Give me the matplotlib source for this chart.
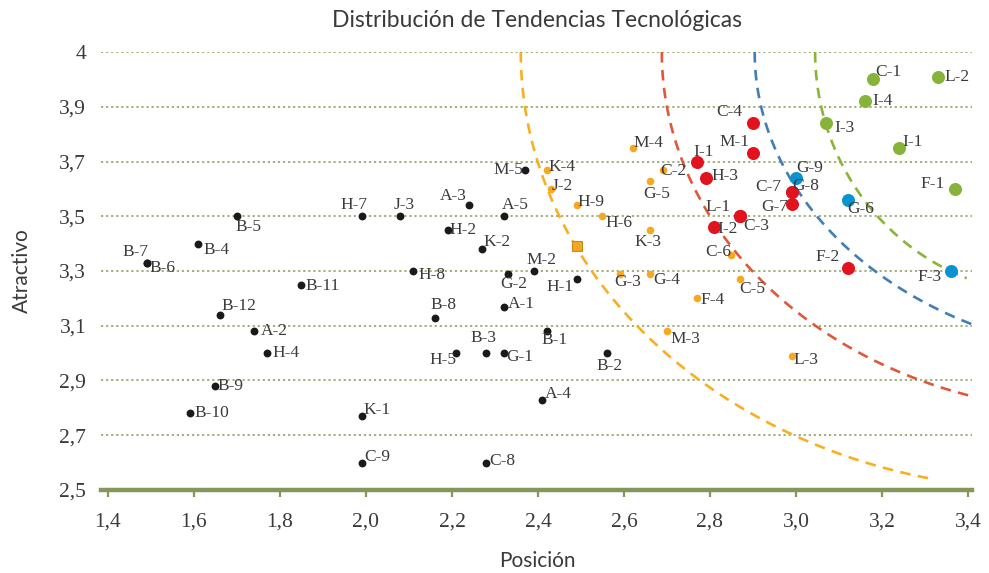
import numpy as np
import matplotlib.pyplot as plt

# ---- data (Posición, Atractivo) ----
black_names = ['B-7', 'B-6', 'B-5', 'B-4', 'B-11', 'B-12', 'A-2', 'H-4', 'B-9', 'B-10',
               'M-5', 'H-7', 'J-3', 'A-3', 'A-5', 'H-2', 'K-2', 'H-8', 'G-2', 'M-2',
               'H-1', 'A-1', 'B-8', 'B-1', 'H-5', 'B-3', 'G-1', 'B-2', 'A-4', 'K-1',
               'C-9', 'C-8']
black_x = [1.49, 1.49, 1.70, 1.61, 1.85, 1.66, 1.74, 1.77, 1.65, 1.59,
           2.37, 1.99, 2.08, 2.24, 2.32, 2.19, 2.27, 2.11, 2.33, 2.39,
           2.49, 2.32, 2.16, 2.42, 2.21, 2.28, 2.32, 2.56, 2.41, 1.99,
           1.99, 2.28]
black_y = [3.33, 3.33, 3.50, 3.40, 3.25, 3.14, 3.08, 3.00, 2.88, 2.78,
           3.67, 3.50, 3.50, 3.54, 3.50, 3.45, 3.38, 3.30, 3.29, 3.30,
           3.27, 3.17, 3.13, 3.08, 3.00, 3.00, 3.00, 3.00, 2.83, 2.77,
           2.60, 2.60]

orange_names = ['K-4', 'J-2', 'H-9', 'H-6', 'G-3', 'G-4', 'K-3', 'C-6', 'C-5', 'F-4',
                'M-3', 'L-3', 'M-4', 'C-2', 'G-5']
orange_x = [2.42, 2.43, 2.49, 2.55, 2.59, 2.66, 2.66, 2.85, 2.87, 2.77,
            2.70, 2.99, 2.62, 2.69, 2.66]
orange_y = [3.67, 3.60, 3.54, 3.50, 3.29, 3.29, 3.45, 3.36, 3.27, 3.20,
            3.08, 2.99, 3.75, 3.67, 3.63]

square_x = [2.49]
square_y = [3.39]

red_names = ['C-4', 'M-1', 'I-1', 'H-3', 'L-1', 'C-3', 'I-2', 'C-7', 'G-7', 'F-2']
red_x = [2.90, 2.90, 2.77, 2.79, 2.87, 2.87, 2.81, 2.99, 2.99, 3.12]
red_y = [3.84, 3.73, 3.70, 3.64, 3.50, 3.50, 3.46, 3.59, 3.545, 3.31]

blue_names = ['G-9', 'G-8', 'G-6', 'F-3']
blue_x = [3.00, 2.99, 3.12, 3.36]
blue_y = [3.64, 3.59, 3.56, 3.30]

green_names = ['C-1', 'L-2', 'I-4', 'I-3', 'I-1', 'F-1']
green_x = [3.18, 3.33, 3.16, 3.07, 3.24, 3.37]
green_y = [4.00, 4.01, 3.92, 3.84, 3.75, 3.60]

x_ticks = [1.4, 1.6, 1.8, 2.0, 2.2, 2.4, 2.6, 2.8, 3.0, 3.2, 3.4]
x_labels = ['1,4', '1,6', '1,8', '2,0', '2,2', '2,4', '2,6', '2,8', '3,0', '3,2', '3,4']
y_ticks = [2.5, 2.7, 2.9, 3.1, 3.3, 3.5, 3.7, 3.9, 4.1]
y_labels = ['2,5', '2,7', '2,9', '3,1', '3,3', '3,5', '3,7', '3,9', '4']

# dashed boundary arcs (quarter ellipses hanging from the top edge):
# centre x, radius x, radius y, last x
arc_cx = [3.591, 3.707, 3.823, 3.591]
arc_rx = [1.231, 1.019, 0.919, 0.5465]
arc_ry = [1.600, 1.315, 1.114, 0.884]
arc_end = [3.315, 3.41, 3.41, 3.397]
arc_colors = ['#F9B020', '#E0583A', '#3F7FB6', '#8AB536']

# ---- label placement (pixel offsets from the point, horizontal alignment) ----
black_offsets = {
    'B-7': (2, 11, 'right'), 'B-6': (3, -5, 'left'), 'B-5': (-1, -11, 'left'),
    'B-4': (5, -6, 'left'), 'B-11': (4, -1, 'left'), 'B-12': (2, 9, 'left'),
    'A-2': (7, 0, 'left'), 'H-4': (5, 0, 'left'), 'B-9': (2, 0, 'left'),
    'B-10': (5, 0, 'left'), 'M-5': (-2, 0, 'right'), 'H-7': (6, 11, 'right'),
    'J-3': (4, 11, 'center'), 'A-3': (-2, 9, 'right'), 'A-5': (-2, 11, 'left'),
    'H-2': (2, 0, 'left'), 'K-2': (1, 7, 'left'), 'H-8': (5, -4, 'left'),
    'G-2': (6, -10, 'center'), 'M-2': (8, 11, 'center'), 'H-1': (-3, -8, 'right'),
    'A-1': (4, 3, 'left'), 'B-8': (9, 13, 'center'), 'B-1': (8, -9, 'center'),
    'H-5': (0, -7, 'right'), 'B-3': (-3, 15, 'center'), 'G-1': (3, -4, 'left'),
    'B-2': (3, -13, 'center'), 'A-4': (3, 6, 'left'), 'K-1': (2, 6, 'left'),
    'C-9': (3, 6, 'left'), 'C-8': (3, 2, 'left'),
}
orange_offsets = {
    'K-4': (2, 3, 'left'), 'J-2': (1, 3, 'left'), 'H-9': (1, 3, 'left'),
    'H-6': (3, -7, 'left'), 'G-3': (8, -8, 'center'), 'G-4': (3, -6, 'left'),
    'K-3': (-2, -12, 'center'), 'C-6': (0, 3, 'right'), 'C-5': (-1, -10, 'left'),
    'F-4': (3, -2, 'left'), 'M-3': (3, -8, 'left'), 'L-3': (2, -4, 'left'),
    'M-4': (1, 5, 'left'), 'C-2': (-2, -1, 'left'), 'G-5': (7, -13, 'center'),
}
red_offsets = {
    'C-4': (-11, 11, 'right'), 'M-1': (-4, 11, 'right'), 'I-1': (6, 10, 'center'),
    'H-3': (6, 2, 'left'), 'L-1': (-9, 9, 'right'), 'C-3': (3, -10, 'left'),
    'I-2': (3, -2, 'left'), 'C-7': (-10, 5, 'right'), 'G-7': (-4, -3, 'right'),
    'F-2': (-8, 11, 'right'),
}
blue_offsets = {
    'G-9': (0, 10, 'left'), 'G-8': (1, 6, 'left'), 'G-6': (0, -9, 'left'),
    'F-3': (-9, -6, 'right'),
}
green_offsets = {
    'C-1': (2, 7, 'left'), 'L-2': (7, 0, 'left'), 'I-4': (8, 0, 'left'),
    'I-3': (8, -5, 'left'), 'I-1': (3, 6, 'left'), 'F-1': (-10, 5, 'right'),
}

olive = '#84965A'
grid_col = '#9AA86C'
text_col = '#3A3A3A'
label_font = 'Liberation Serif'

fig = plt.figure(figsize=(9.89, 5.73), dpi=100)
ax = fig.add_axes([0.1026, 0.1449, 0.8805, 0.7643])
ax.set_xlim(1.385, 3.41)
ax.set_ylim(2.5, 4.1)

# boundary arcs
for cx, rx, ry, xe, col in zip(arc_cx, arc_rx, arc_ry, arc_end, arc_colors):
    t_end = np.arccos((xe - cx) / rx)
    t = np.linspace(np.pi, t_end, 300)
    ax.plot(cx + rx * np.cos(t), 4.1 - ry * np.sin(t), color=col, lw=1.9,
            linestyle=(0, (4, 2.8)), zorder=2, clip_on=False)

ax.scatter(black_x, black_y, s=32, color='#1A1A1A', zorder=4, linewidths=0)
ax.scatter(orange_x, orange_y, s=30, color='#F8A81E', zorder=4, linewidths=0)
ax.scatter(square_x, square_y, s=42, marker='s', color='#F5A623',
           edgecolors='#C98A1A', linewidths=0.8, zorder=4)
ax.scatter(blue_x, blue_y, s=88, color='#0A93D1', zorder=5, linewidths=0)
ax.scatter(red_x, red_y, s=88, color='#E2131E', zorder=6, linewidths=0)
ax.scatter(green_x, green_y, s=88, color='#86B43A', zorder=5, linewidths=0)

groups = [(black_names, black_x, black_y, black_offsets),
          (orange_names, orange_x, orange_y, orange_offsets),
          (red_names, red_x, red_y, red_offsets),
          (blue_names, blue_x, blue_y, blue_offsets),
          (green_names, green_x, green_y, green_offsets)]
for names, xs, ys, offs in groups:
    for n, xv, yv in zip(names, xs, ys):
        dx, dy, ha = offs[n]
        ax.annotate(n, (xv, yv), xytext=(dx, dy), textcoords='offset pixels',
                    ha=ha, va='center', fontsize=12.5, family=label_font,
                    color=text_col, zorder=7)

# axes styling
ax.set_xticks(x_ticks)
ax.set_xticklabels(x_labels)
ax.set_yticks(y_ticks)
ax.set_yticklabels(y_labels)
for s in ['top', 'right', 'left']:
    ax.spines[s].set_visible(False)
ax.spines['bottom'].set_color(olive)
ax.spines['bottom'].set_linewidth(3.2)
ax.tick_params(axis='x', direction='out', length=5, width=1.6, color=olive,
               pad=11, labelsize=15.5, labelcolor=text_col)
ax.tick_params(axis='y', length=0, pad=11, labelsize=15.5, labelcolor=text_col)
for lab in ax.get_xticklabels() + ax.get_yticklabels():
    lab.set_family(label_font)
ax.yaxis.grid(True, linestyle=(0, (1.2, 1.6)), color=grid_col, lw=1.3)
ax.set_axisbelow(True)

ax.set_title('Distribución de Tendencias Tecnológicas', fontsize=16.5,
             family='Lato', color=text_col, pad=18)
ax.set_xlabel('Posición', fontsize=15, family='Lato', color=text_col, labelpad=14)
ax.set_ylabel('Atractivo', fontsize=15, family='Lato', color=text_col, labelpad=20)

plt.savefig('out.png', dpi=100)
